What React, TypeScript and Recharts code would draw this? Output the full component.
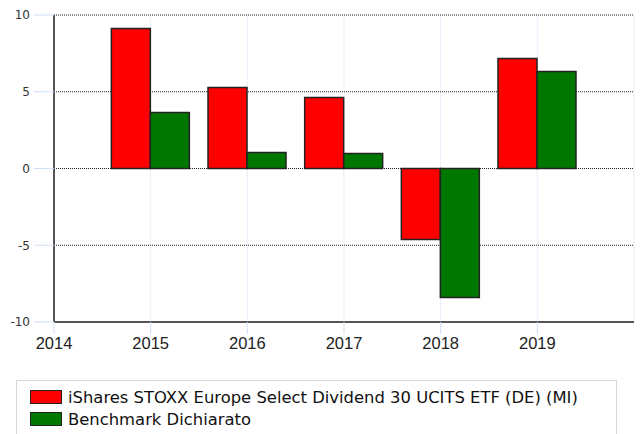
import React from "react";
import { BarChart, Bar, XAxis, YAxis, CartesianGrid } from "recharts";

const years = [2015, 2016, 2017, 2018, 2019];
const etfValues = [9.12, 5.28, 4.63, -4.63, 7.17];
const benchmarkValues = [3.65, 1.04, 0.98, -8.4, 6.32];
const xTicks = [2014, 2015, 2016, 2017, 2018, 2019];
const yTicks = [-10, -5, 0, 5, 10];
const seriesNames = [
  "iShares STOXX Europe Select Dividend 30 UCITS ETF (DE) (MI)",
  "Benchmark Dichiarato",
];
const seriesColors = ["#ff0000", "#007800"];

const data = years.map((y, i) => ({
  year: y,
  etf: etfValues[i],
  bench: benchmarkValues[i],
}));

const FONT = "'DejaVu Sans', Verdana, sans-serif";
const XFONT = "'Liberation Sans', Arial, sans-serif";

export default function App() {
  return (
    <div style={{ position: "absolute", left: 0, top: 0, width: 640, height: 434, background: "#fff", overflow: "hidden" }}>
      <BarChart
        width={640}
        height={434}
        data={data}
        margin={{ top: 15, right: 6, bottom: 82, left: 0 }}
        barGap={0}
        barCategoryGap={0}
      >
        <CartesianGrid
          horizontal={false}
          vertical={true}
          stroke="#cfe0f5"
          strokeDasharray="1 1"
        />
        <CartesianGrid
          horizontal={true}
          vertical={false}
          stroke="#222"
          strokeDasharray="1 1"
        />
        <XAxis
          dataKey="year"
          type="number"
          domain={[2014, 2020]}
          ticks={xTicks}
          allowDecimals={false}
          height={30}
          tickSize={12}
          tickMargin={3}
          tickLine={{ stroke: "#cfe0f5" }}
          axisLine={{ stroke: "#555", strokeWidth: 2 }}
          tick={{ fill: "#222", fontSize: 16.5, fontFamily: XFONT }}
        />
        <YAxis
          type="number"
          domain={[-10, 10]}
          ticks={yTicks}
          width={54}
          tickSize={20}
          tickMargin={4}
          tickLine={{ stroke: "#cfe0f5" }}
          axisLine={{ stroke: "#555", strokeWidth: 2 }}
          tick={{ fill: "#333", fontSize: 12, fontFamily: FONT }}
        />
        <Bar
          dataKey="etf"
          fill={seriesColors[0]}
          stroke="#222"
          strokeWidth={1.5}
          barSize={39}
          isAnimationActive={false}
        />
        <Bar
          dataKey="bench"
          fill={seriesColors[1]}
          stroke="#222"
          strokeWidth={1.5}
          barSize={39}
          isAnimationActive={false}
        />
      </BarChart>
      <div
        style={{
          position: "absolute",
          left: 16,
          top: 380,
          width: 601,
          height: 60,
          border: "1px solid #d8d8d8",
          boxSizing: "border-box",
          fontFamily: FONT,
          fontSize: 16.4,
          color: "#111",
          paddingLeft: 13,
          paddingTop: 5,
        }}
      >
        {seriesNames.map((n, i) => (
          <div key={n} style={{ display: "flex", alignItems: "center", height: 22, whiteSpace: "nowrap" }}>
            <span
              style={{
                display: "inline-block",
                width: 32,
                height: 14,
                boxSizing: "border-box",
                background: seriesColors[i],
                border: "1px solid #222",
                marginRight: 6,
                flexShrink: 0,
              }}
            />
            <span>{n}</span>
          </div>
        ))}
      </div>
    </div>
  );
}
